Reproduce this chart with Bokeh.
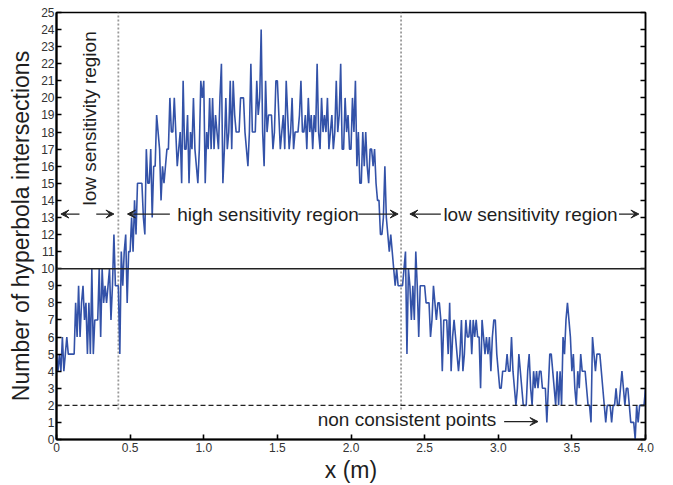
from bokeh.plotting import figure
from bokeh.models import (FixedTicker, LinearAxis, Span, Label, Arrow, VeeHead,
                          CustomJSTickFormatter)
from bokeh.embed import file_html
from bokeh.resources import INLINE
import math

# ---- data: number of hyperbola intersections, sampled every 0.01 m ----
counts = [
    5, 4, 5, 4, 6, 4, 5, 6, 5, 5, 5, 5, 5, 8, 6, 9, 6, 8, 9, 7,
    8, 5, 8, 5, 10, 5, 7, 7, 7, 10, 6, 10, 8, 9, 8, 9, 10, 7, 9, 12,
    9, 9, 9, 5, 11, 9, 11, 12, 8, 11, 11, 13, 11, 14, 12, 15, 15, 15, 15, 13,
    12, 17, 15, 15, 17, 13, 16, 16, 19, 18, 17, 14, 16, 15, 16, 17, 17, 20, 18, 18,
    20, 18, 16, 17, 18, 15, 21, 17, 17, 19, 15, 18, 17, 20, 17, 16, 15, 17, 21, 20,
    21, 15, 18, 17, 20, 17, 20, 17, 19, 18, 17, 20, 22, 15, 17, 20, 17, 18, 21, 17,
    21, 19, 18, 18, 18, 20, 20, 20, 18, 17, 16, 18, 22, 18, 18, 18, 21, 19, 20, 24,
    18, 16, 21, 18, 19, 19, 19, 17, 18, 21, 21, 19, 17, 18, 19, 17, 21, 19, 17, 18,
    20, 17, 18, 18, 18, 19, 21, 18, 18, 19, 17, 20, 18, 19, 17, 19, 18, 22, 18, 17,
    20, 18, 19, 18, 20, 17, 18, 19, 17, 18, 21, 18, 19, 22, 17, 17, 20, 18, 19, 17,
    17, 20, 18, 21, 16, 18, 15, 15, 18, 16, 18, 16, 15, 17, 17, 16, 17, 15, 14, 14,
    12, 12, 13, 16, 13, 12, 11, 12, 11, 10, 9, 10, 9, 9, 9, 9, 10, 11, 5, 10,
    9, 7, 9, 7, 11, 9, 6, 9, 9, 9, 9, 8, 8, 8, 6, 7, 9, 8, 7, 8,
    8, 7, 4, 7, 7, 7, 5, 8, 4, 6, 7, 6, 5, 4, 5, 7, 4, 5, 7, 6,
    6, 7, 5, 7, 6, 7, 6, 6, 3, 7, 6, 5, 6, 5, 6, 4, 6, 7, 7, 5,
    4, 3, 3, 4, 4, 4, 5, 4, 4, 6, 4, 3, 2, 3, 5, 4, 3, 2, 2, 2,
    4, 5, 3, 2, 4, 3, 4, 3, 4, 4, 3, 3, 3, 1, 3, 5, 5, 4, 3, 2,
    4, 2, 4, 2, 6, 5, 7, 8, 7, 6, 4, 5, 3, 2, 4, 3, 5, 4, 4, 4,
    3, 2, 2, 1, 6, 5, 4, 5, 5, 5, 4, 3, 2, 1, 2, 2, 2, 1, 2, 2,
    3, 2, 2, 3, 4, 3, 2, 3, 3, 2, 1, 1, 1, 0, 2, 1, 2, 2, 2, 2,
    3,
]
x_step = 0.01
x_vals = [round(i * x_step, 2) for i in range(len(counts))]

x_ticks = [0, 0.5, 1.0, 1.5, 2.0, 2.5, 3.0, 3.5, 4.0]
y_ticks = list(range(0, 26))

threshold_level = 10
consistency_level = 2
region_bounds = [0.42, 2.34]
region_line_bottom = 1.75

arrow_y = 13.2
arrows_tail = [0.156, 0.27, 0.77, 2.05, 2.61, 3.82, 3.04]
arrows_head = [0.03, 0.39, 0.482, 2.32, 2.40, 3.955, 3.27]
arrows_y = [arrow_y, arrow_y, arrow_y, arrow_y, arrow_y, arrow_y, 1.05]

FONT = "Liberation Sans"
TXT = "#1e1e1e"

p = figure(width=673, height=485, x_range=(0, 4), y_range=(0, 25),
           output_backend="svg", toolbar_location=None,
           min_border_left=56, min_border_right=28,
           min_border_top=12, min_border_bottom=43)
p.background_fill_color = "white"
p.border_fill_color = "white"
p.grid.visible = False
p.outline_line_color = "black"
p.outline_line_width = 1.5

# region boundaries (dotted)
p.segment(x0=region_bounds, y0=[region_line_bottom] * 2,
          x1=region_bounds, y1=[25] * 2,
          line_color="#9a9a9a", line_width=1.8, line_dash="2 2")

p.add_layout(Span(location=threshold_level, dimension="width",
                  line_color="#222222", line_width=1.4))
p.add_layout(Span(location=consistency_level, dimension="width",
                  line_color="#222222", line_width=1.3, line_dash="5 3"))

p.line(x_vals, counts, line_color="#3352a8", line_width=1.6)

# axes
for ax in (p.xaxis[0], p.yaxis[0]):
    ax.axis_line_width = 2.2
    ax.axis_line_color = "black"
    ax.major_tick_in = 5
    ax.major_tick_out = 0
    ax.major_tick_line_width = 1.6
    ax.major_tick_line_color = "black"
    ax.minor_tick_in = 0
    ax.minor_tick_out = 0
    ax.major_label_text_font = FONT
    ax.major_label_text_color = "#333333"
    ax.axis_label_text_font = FONT
    ax.axis_label_text_font_style = "normal"
    ax.axis_label_text_color = TXT

p.xaxis.ticker = FixedTicker(ticks=x_ticks)
p.xaxis.formatter = CustomJSTickFormatter(
    code="return tick == 0 ? '0' : tick.toFixed(1);")
p.xaxis.major_label_text_font_size = "12px"
p.xaxis.major_label_standoff = 3
p.xaxis.axis_label = "x (m)"
p.xaxis.axis_label_text_font_size = "23px"
p.xaxis.axis_label_standoff = 2

p.yaxis.ticker = FixedTicker(ticks=y_ticks)
p.yaxis.major_label_text_font_size = "12px"
p.yaxis.major_label_standoff = 2
p.yaxis.axis_label = "Number of hyperbola intersections"
p.yaxis.axis_label_text_font_size = "23px"
p.yaxis.axis_label_standoff = 4

ra = LinearAxis(ticker=FixedTicker(ticks=y_ticks),
                formatter=CustomJSTickFormatter(code="return '';"),
                major_label_text_font_size="8px",
                major_tick_in=5, major_tick_out=0,
                major_tick_line_width=1.6,
                minor_tick_in=0, minor_tick_out=0,
                axis_line_width=1.5, axis_line_color="black")
p.add_layout(ra, "right")

# arrows
for xt, xh, ya in zip(arrows_tail, arrows_head, arrows_y):
    p.add_layout(Arrow(end=VeeHead(size=8, fill_color="#222222",
                                   line_color="#222222", line_width=1),
                       x_start=xt, y_start=ya, x_end=xh, y_end=ya,
                       line_color="#222222", line_width=1.2))

# texts
labels = [
    ("low sensitivity region", 0.227, 18.8, math.pi / 2),
    ("high sensitivity region", 1.436, arrow_y, 0),
    ("low sensitivity region", 3.219, arrow_y, 0),
    ("non consistent points", 2.380, 1.16, 0),
]
for txt, lx, ly, ang in labels:
    p.add_layout(Label(x=lx, y=ly, text=txt, angle=ang,
                       text_align="center", text_baseline="middle",
                       text_font=FONT, text_font_size="19px",
                       text_color=TXT))

open("out.html", "w").write(file_html(p, INLINE))
